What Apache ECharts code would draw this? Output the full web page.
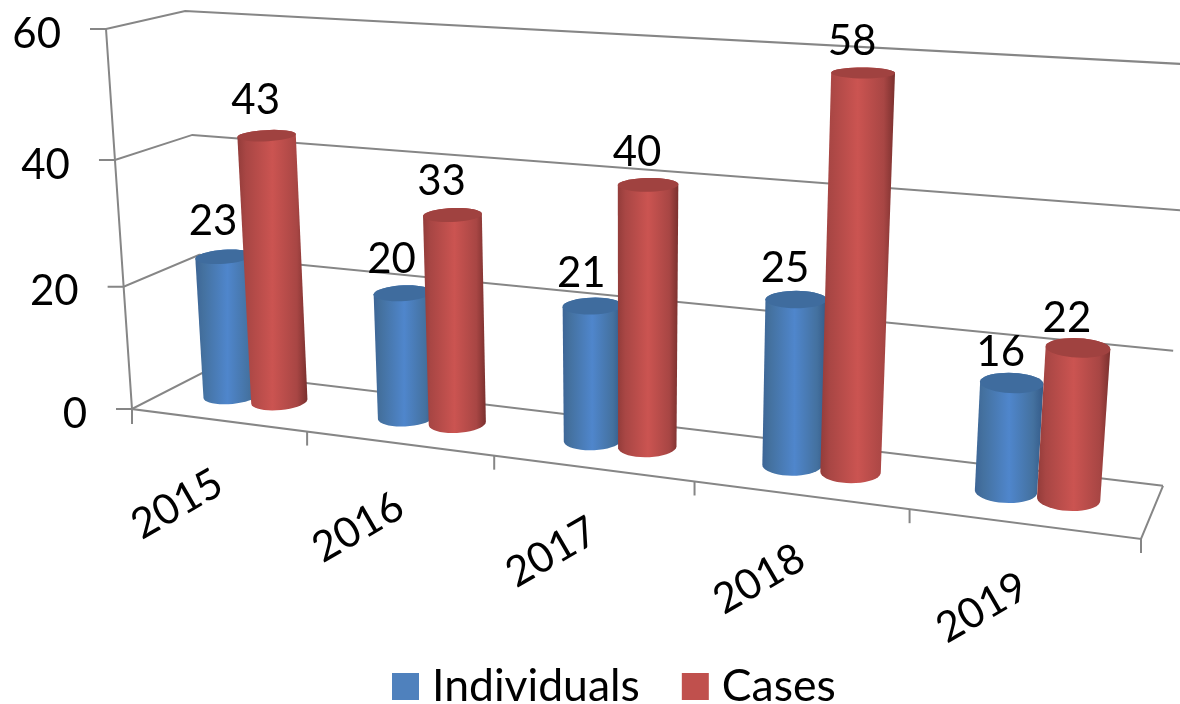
<!DOCTYPE html>
<html>
<head>
<meta charset="utf-8">
<style>html,body{margin:0;padding:0;background:#fff}#chart{width:1180px;height:704px}</style>
<script src="https://cdn.jsdelivr.net/npm/echarts@6/dist/echarts.min.js"></script>
</head>
<body>
<div id="chart"></div>
<script>
const years = ["2015", "2016", "2017", "2018", "2019"];
const individuals = [23, 20, 21, 25, 16];
const cases = [43, 33, 40, 58, 22];
const yTicks = [0, 20, 40, 60];

const FONT = "Lato";
const FONT_SIZE = 42;
const LINE = "#868686";

// perspective box: corners on screen plus the shrink along each edge
const O = [132, 409], EU = [1141, 539], EY = [106, 29], EZ = [206, 371];
const P_U = -0.16, P_Y = -0.05, P_Z = 0.058;

const project = (u, y, z) => {
  const w = 1 + u * P_U + y * P_Y + z * P_Z;
  return [0, 1].map(i => {
    const a = EU[i] * (1 + P_U) - O[i];
    const b = EY[i] * (1 + P_Y) - O[i];
    const c = EZ[i] * (1 + P_Z) - O[i];
    return (O[i] + u * a + y * b + z * c) / w;
  });
};

// axis value -> 0..1 inside the hidden grid, so scales stay with the library
const toUnit = (params, api, cat, val, shift) => {
  const r = params.coordSys;
  const pt = api.coord([cat, val]);
  const band = api.size([1, 0])[0];
  return [(pt[0] + shift * band - r.x) / r.width, (r.y + r.height - pt[1]) / r.height];
};

const ring = (uc, y, zc) => {
  const pts = [];
  for (let i = 0; i < 40; i++) {
    const a = (i / 40) * Math.PI * 2;
    pts.push(project(uc + 0.0275 * Math.cos(a), y, zc + 0.22 * Math.sin(a)));
  }
  return pts;
};

const hull = pts => {
  const s = pts.slice().sort((a, b) => a[0] - b[0] || a[1] - b[1]);
  const cross = (o, a, b) => (a[0] - o[0]) * (b[1] - o[1]) - (a[1] - o[1]) * (b[0] - o[0]);
  const half = list => {
    const out = [];
    list.forEach(p => {
      while (out.length > 1 && cross(out[out.length - 2], out[out.length - 1], p) <= 0) out.pop();
      out.push(p);
    });
    out.pop();
    return out;
  };
  return half(s).concat(half(s.reverse()));
};

const shade = stops => new echarts.graphic.LinearGradient(0, 0, 1, 0,
  stops.map((c, i) => ({ offset: [0, 0.12, 0.5, 0.85, 1][i], color: c })));

const cylinder = (shift, body, cap) => (params, api) => {
  const cat = api.value(0), val = api.value(1);
  const [u, y] = toUnit(params, api, cat, val, shift);
  const zc = 0.54;
  const bottom = ring(u, 0, zc), top = ring(u, y, zc);
  const topCentre = project(u, y, zc);
  return {
    type: "group",
    children: [
      { type: "polygon", shape: { points: hull(bottom.concat(top)) }, style: { fill: shade(body) } },
      { type: "polygon", shape: { points: top }, style: { fill: cap } },
      {
        type: "text", z2: 10,
        style: {
          text: String(val), x: topCentre[0] - 11, y: topCentre[1] - (36 - 7 * u),
          fill: "#000", font: FONT_SIZE + "px " + FONT, textAlign: "center", textVerticalAlign: "middle"
        }
      }
    ]
  };
};

const line = pts => ({
  type: "polyline", shape: { points: pts },
  style: { stroke: LINE, lineWidth: 2, fill: null }
});

const renderValueTick = (params, api) => {
  const val = api.value(0);
  const y = toUnit(params, api, 0, val, 0)[1];
  const front = project(0, y, 0);
  return {
    type: "group",
    children: [
      line([[front[0] - 16, front[1]], front, project(0, y, 1), project(1, y, 1)]),
      {
        type: "text",
        style: {
          text: String(val), x: front[0] - 45, y: front[1] + 5,
          fill: "#000", font: FONT_SIZE + "px " + FONT, textAlign: "right", textVerticalAlign: "middle"
        }
      }
    ]
  };
};

const renderCategoryTick = (params, api) => {
  const cat = api.value(0);
  const r = params.coordSys;
  const band = api.size([1, 0])[0];
  const edge = (api.coord([cat, 0])[0] + band / 2 - r.x) / r.width;
  const mid = project((api.coord([cat, 0])[0] - r.x) / r.width, 0, 0);
  const tick = project(edge, 0, 0);
  const children = [
    line([tick, [tick[0], tick[1] + 14]]),
    {
      type: "text", x: mid[0] - 41, y: mid[1] + 84, rotation: Math.PI / 6,
      style: {
        text: years[cat], x: 0, y: 0,
        fill: "#000", font: FONT_SIZE + "px " + FONT, textAlign: "center", textVerticalAlign: "middle"
      }
    }
  ];
  if (cat === 0) {
    const origin = project(0, 0, 0);
    children.push(line([origin, [origin[0], origin[1] + 15]]));
    children.push(line([project(0, 1, 0), origin, project(1, 0, 0), project(1, 0, 1)]));
  }
  return { type: "group", children };
};

const chart = echarts.init(document.getElementById("chart"), null, { renderer: "canvas" });
chart.setOption({
  animation: false,
  backgroundColor: "#fff",
  grid: { left: 100, right: 100, top: 100, bottom: 100 },
  xAxis: { type: "category", data: years, show: false },
  yAxis: { type: "value", min: 0, max: 60, interval: 20, show: false },
  legend: {
    data: ["Individuals", "Cases"],
    left: 392, top: 664,
    padding: 0,
    icon: "rect",
    itemWidth: 27, itemHeight: 27, itemGap: 42,
    selectedMode: false,
    textStyle: { fontFamily: FONT, fontSize: 44.5, color: "#000", padding: [0, 0, 0, 8] }
  },
  series: [
    {
      type: "custom", name: "valueTicks", silent: true,
      data: yTicks.map(v => [v]),
      encode: { y: 0 },
      renderItem: renderValueTick
    },
    {
      type: "custom", name: "categoryTicks", silent: true,
      data: years.map((_, i) => [i]),
      encode: { x: 0 },
      renderItem: renderCategoryTick
    },
    {
      type: "custom", name: "Individuals",
      itemStyle: { color: "#4F81BD" },
      data: individuals.map((v, i) => [i, v]),
      encode: { x: 0, y: 1 },
      renderItem: cylinder(-0.15, ["#3d6596", "#44719f", "#4f86cc", "#44719f", "#345a88"], "#3f6c9e")
    },
    {
      type: "custom", name: "Cases",
      itemStyle: { color: "#C0504D" },
      data: cases.map((v, i) => [i, v]),
      encode: { x: 0, y: 1 },
      renderItem: cylinder(0.13, ["#933c3a", "#a84644", "#cb5451", "#a84644", "#7a302e"], "#a04240")
    }
  ]
});
</script>
</body>
</html>
